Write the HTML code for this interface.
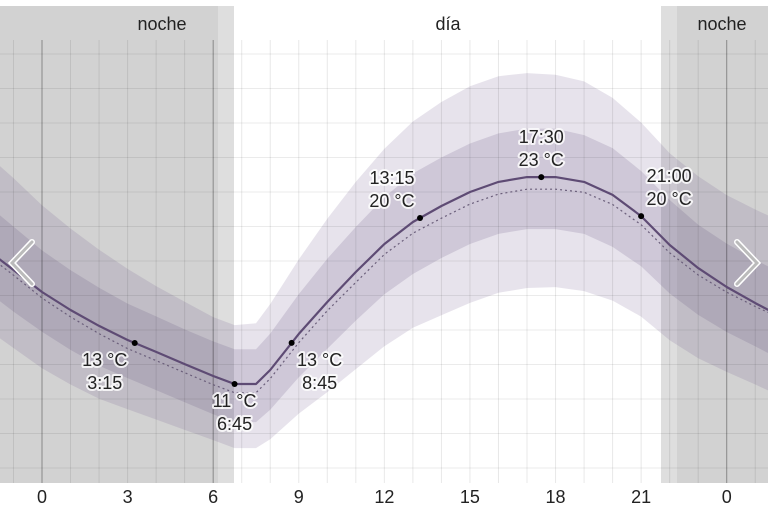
<!DOCTYPE html>
<html><head><meta charset="utf-8"><style>
body{margin:0;background:#fff;}
svg{display:block;font-family:"Liberation Sans",sans-serif;}
</style></head><body>
<svg id="chart" width="768" height="512">
<g id="bg"></g><g id="bands"></g><g id="grid"></g><g id="lines"></g><g id="labels"></g>
</svg>
<script>
const hours=[-2,-1,0,1,2,3,4,5,6,6.75,7.5,8,9,10,11,12,13,14,15,16,17,18,19,20,21,22,23,24,25,26];
const temps=[18.85,17.58,16.31,15.27,14.35,13.54,12.85,12.15,11.46,11,11,11.81,13.89,15.73,17.46,19.08,20.35,21.27,22.08,22.66,22.94,22.94,22.66,21.91,20.69,19.02,17.69,16.6,15.67,14.81];
const outerUp=[5.5,5.3,5,4.7,4.4,4.1,3.8,3.6,3.4,3.4,3.5,3.8,4.3,4.8,5.2,5.5,5.8,6,6.1,6.1,6,5.9,5.8,5.6,5.4,5.3,5.3,5.3,5.4,5.5];
const innerUp=[2.6,2.5,2.4,2.3,2.2,2.1,2.05,2,2,2,2,2.1,2.3,2.5,2.6,2.7,2.8,2.8,2.8,2.8,2.8,2.8,2.7,2.7,2.6,2.6,2.5,2.5,2.5,2.5];
const innerDn=[2.4,2.4,2.3,2.3,2.3,2.2,2.2,2.2,2.2,2.2,2.2,2.3,2.5,2.7,2.8,2.9,3,3,3,3,3,3,3,3,2.9,2.8,2.7,2.6,2.5,2.5];
const outerDn=[4.6,4.5,4.4,4.3,4.2,4,3.9,3.8,3.7,3.7,3.7,4,4.6,5.2,5.6,5.9,6.1,6.3,6.4,6.4,6.4,6.35,6.3,6.1,5.8,5.5,5.2,4.9,4.7,4.6];
const dotOff=[0.3,0.3,0.35,0.4,0.45,0.5,0.5,0.5,0.5,0.5,0.5,0.5,0.5,0.5,0.6,0.6,0.65,0.7,0.7,0.7,0.7,0.7,0.6,0.55,0.5,0.45,0.4,0.3,0.2,0.1];
const tickHours=[0,3,6,9,12,15,18,21,24];
const tickLabels=["0","3","6","9","12","15","18","21","0"];
const marks=[{h:3.25,t:13,l1:"13 °C",l2:"3:15",pos:"below",dx:-30},{h:6.75,t:11,l1:"11 °C",l2:"6:45",pos:"below",dx:0},{h:8.75,t:13,l1:"13 °C",l2:"8:45",pos:"below",dx:28},{h:13.25,t:20,l1:"13:15",l2:"20 °C",pos:"above",dx:-28},{h:17.5,t:23,l1:"17:30",l2:"23 °C",pos:"above",dx:0},{h:21,t:20,l1:"21:00",l2:"20 °C",pos:"above",dx:28}];
const X=h=>42+h*28.53;
const Y=t=>384-(t-11)*17.33;
function curveT(h){for(let i=0;i<hours.length-1;i++){if(h>=hours[i]&&h<=hours[i+1]){const f=(h-hours[i])/(hours[i+1]-hours[i]);return temps[i]+f*(temps[i+1]-temps[i]);}}return temps[0];}
const NS="http://www.w3.org/2000/svg";
function mk(tag,attrs,parent){const e=document.createElementNS(NS,tag);for(const k in attrs)e.setAttribute(k,attrs[k]);parent.appendChild(e);return e;}
const bg=document.getElementById('bg'),bands=document.getElementById('bands'),grid=document.getElementById('grid'),lines=document.getElementById('lines'),labels=document.getElementById('labels');
let r;
r=mk('rect',{x:0,y:6,width:234,height:477,fill:'#dedede'},bg);


r=mk('rect',{x:0,y:6,width:218,height:477,fill:'#d2d2d2'},bg);


r=mk('rect',{x:661,y:6,width:107,height:477,fill:'#dedede'},bg);


r=mk('rect',{x:677,y:6,width:91,height:477,fill:'#d2d2d2'},bg);


function bandPath(up,dn){let p='';hours.forEach((h,i)=>{p+=(i?'L':'M')+X(h).toFixed(1)+','+Y(temps[i]+up[i]).toFixed(1);});for(let i=hours.length-1;i>=0;i--)p+='L'+X(hours[i]).toFixed(1)+','+Y(temps[i]-dn[i]).toFixed(1);return p+'Z';}
let b=mk('path',{d:bandPath(outerUp,outerDn),fill:'rgba(110,90,140,0.17)'},bands);


b=mk('path',{d:bandPath(innerUp,innerDn),fill:'rgba(90,70,120,0.17)'},bands);


for(let y=54;y<480;y+=34.5){const g=mk('line',{x1:0,x2:768,y1:y,y2:y,stroke:'rgba(0,0,0,0.08)','stroke-width':1},grid);}
for(let h=-1;h<=25;h++){const dark=(h===0||h===24||h===6);const g=mk('line',{x1:X(h),x2:X(h),y1:40,y2:483,stroke:dark?'rgba(0,0,0,0.35)':'rgba(0,0,0,0.09)','stroke-width':1},grid);}
let dp='',mp='';hours.forEach((h,i)=>{dp+=(i?'L':'M')+X(h).toFixed(1)+','+Y(temps[i]-dotOff[i]).toFixed(1);mp+=(i?'L':'M')+X(h).toFixed(1)+','+Y(temps[i]).toFixed(1);});
let l=mk('path',{d:dp,fill:'none',stroke:'#6a5e7a','stroke-width':1.2,'stroke-dasharray':'2,3'},lines);


l=mk('path',{d:mp,fill:'none',stroke:'#5e4b74','stroke-width':2.2,'stroke-linejoin':'round'},lines);


marks.forEach(m=>{const cx=X(m.h),cy=Y(curveT(m.h));
const c=mk('circle',{cx:cx,cy:cy,r:3,fill:'#000'},labels);


const ty1=m.pos==='below'?cy+23:cy-34,ty2=ty1+23;
[m.l1,m.l2].forEach((s,k)=>{const t=mk('text',{x:cx+m.dx,y:k?ty2:ty1,'text-anchor':'middle','font-size':18,fill:'#222',stroke:'rgba(255,255,255,0.8)','stroke-width':4,'paint-order':'stroke','stroke-linejoin':'round'},labels);t.textContent=s;

});});
tickHours.forEach((h,i)=>{const t=mk('text',{x:X(h),y:503,'text-anchor':'middle','font-size':18,fill:'#222'},labels);t.textContent=tickLabels[i];

});
[['noche',162],['día',448],['noche',722]].forEach(a=>{const t=mk('text',{x:a[1],y:30,'text-anchor':'middle','font-size':18,fill:'#222'},labels);t.textContent=a[0];

});
let a=mk('path',{d:'M32,242 L12,263 L32,284',fill:'none',stroke:'#fff','stroke-width':6,'stroke-linecap':'round'},labels);

a=mk('path',{d:'M32,242 L12,263 L32,284',fill:'none',stroke:'#bbb','stroke-width':3,'stroke-linecap':'round'},labels);

a=mk('path',{d:'M737,242 L757,263 L737,284',fill:'none',stroke:'#fff','stroke-width':6,'stroke-linecap':'round'},labels);

a=mk('path',{d:'M737,242 L757,263 L737,284',fill:'none',stroke:'#bbb','stroke-width':3,'stroke-linecap':'round'},labels);

</script>
</body></html>
